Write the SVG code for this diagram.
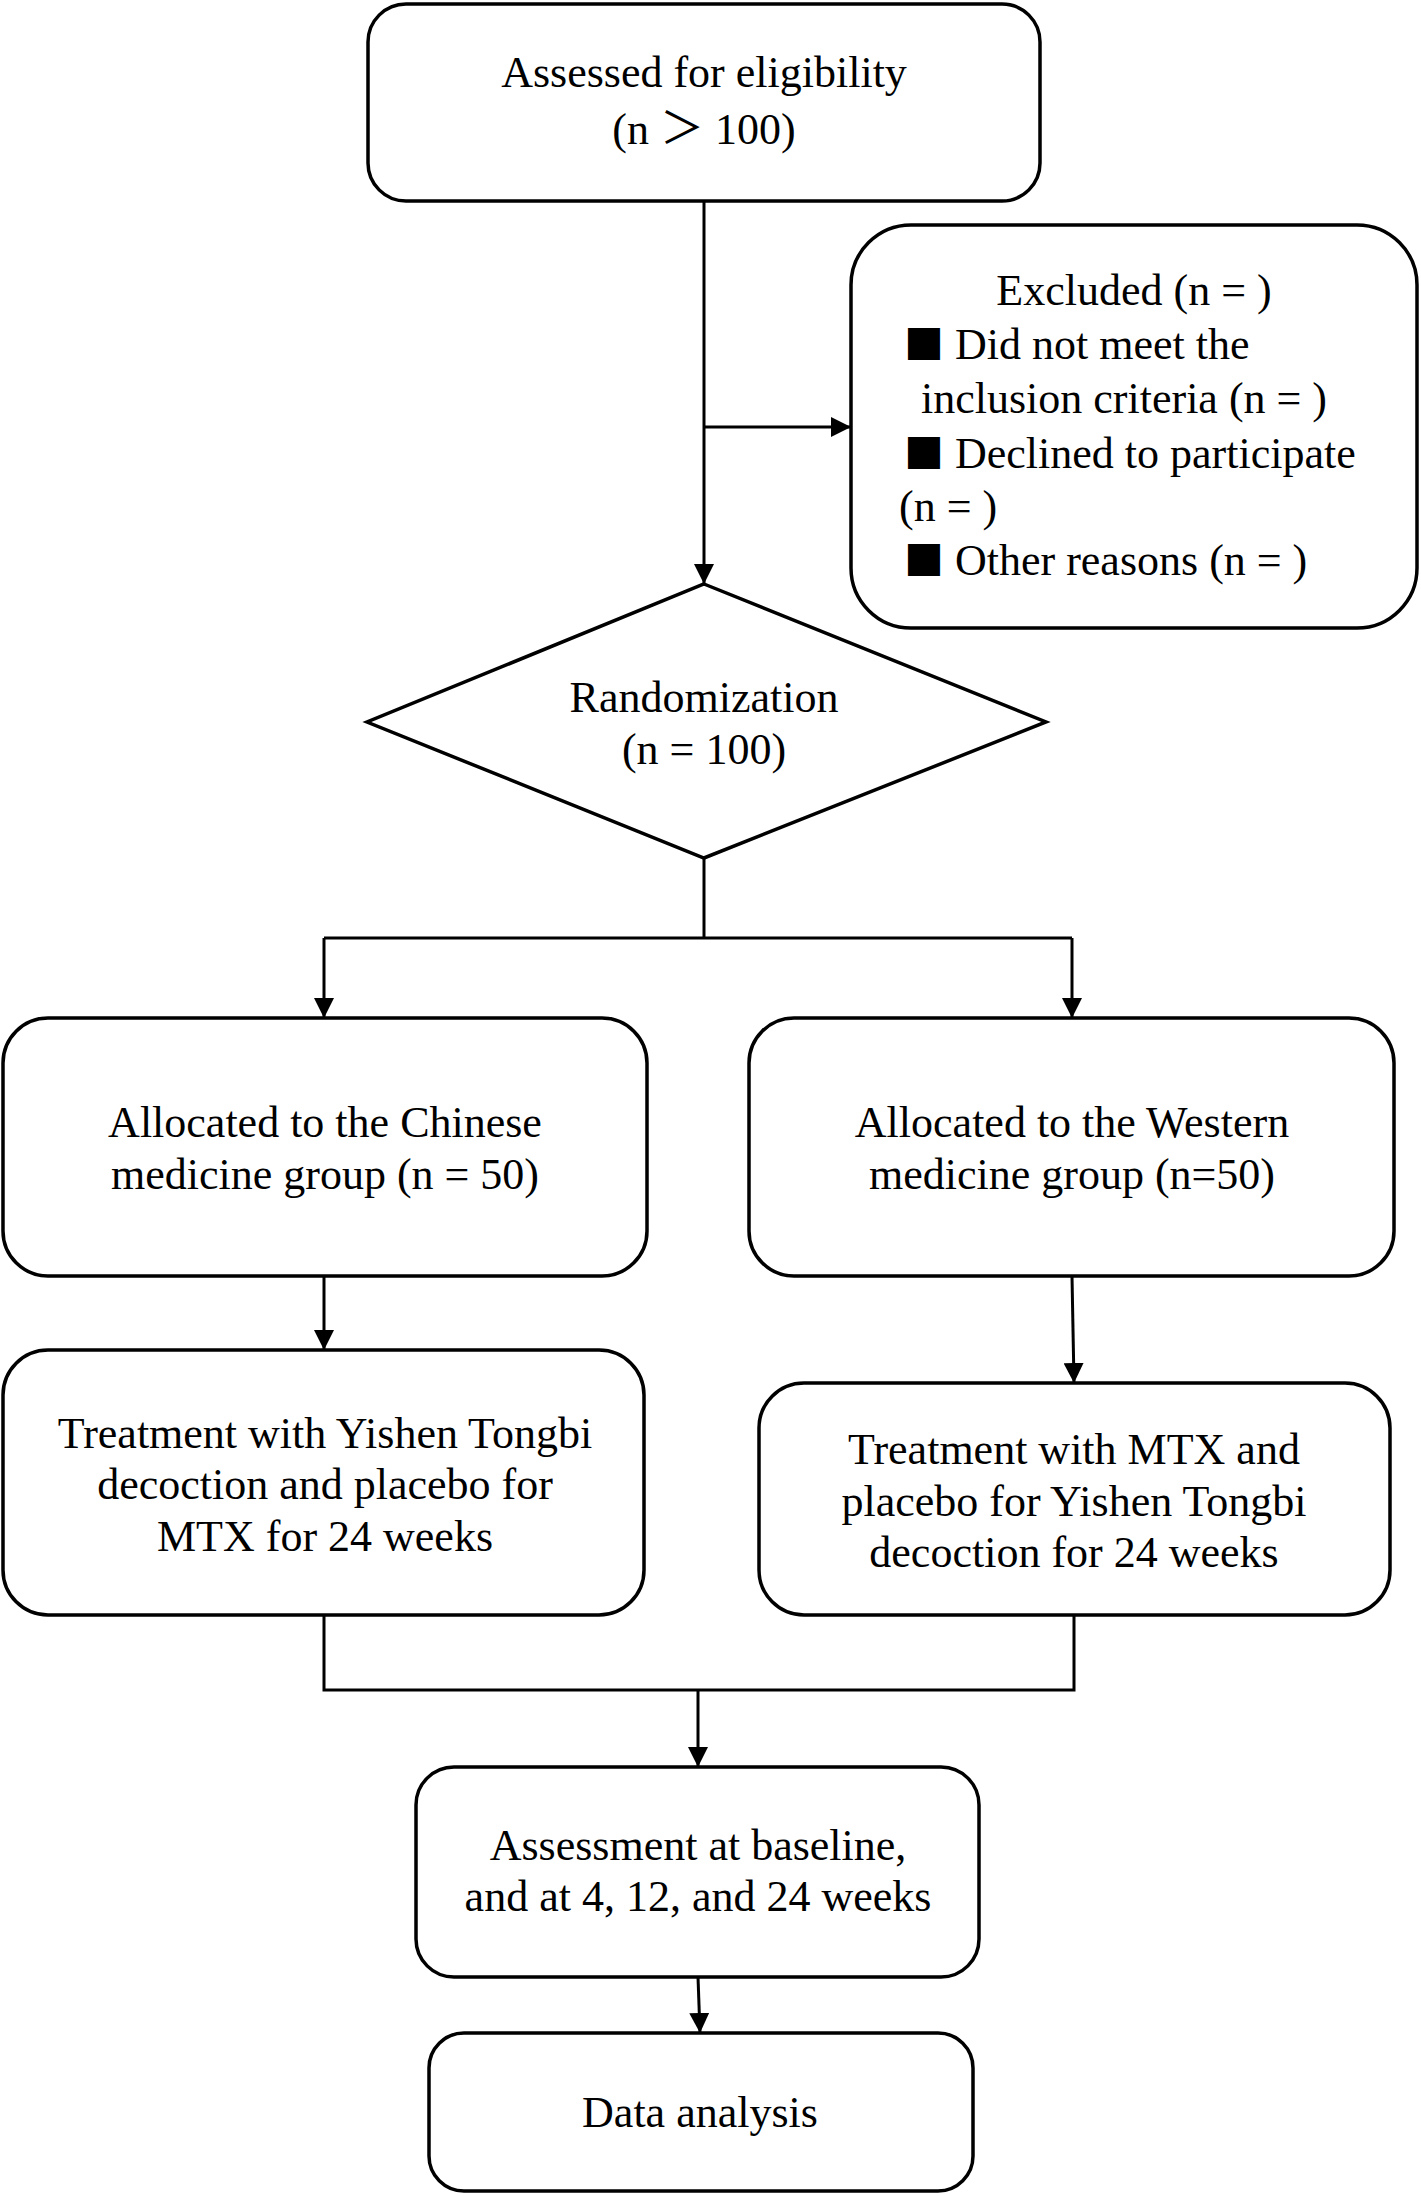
<svg xmlns="http://www.w3.org/2000/svg" width="1421" height="2196" viewBox="0 0 1421 2196">
<defs>
<marker id="arr" markerUnits="userSpaceOnUse" markerWidth="20" markerHeight="20" refX="20" refY="10" orient="auto">
<path d="M0,0 L20,10 L0,20 z" fill="#000"/>
</marker>
</defs>
<style>
.box{fill:#fff;stroke:#000;stroke-width:3.5}
.t{font-family:"Liberation Serif","Times New Roman","Noto Sans CJK SC",serif;font-size:44px;fill:#000}
.c{text-anchor:middle}
.sq{font-family:"Noto Sans CJK SC",sans-serif;font-size:40px}
.ln{fill:none;stroke:#000;stroke-width:3}
</style>
<rect width="1421" height="2196" fill="#fff"/>
<g id="connectors">
<line class="ln" x1="704" y1="201" x2="704" y2="584" marker-end="url(#arr)"/>
<line class="ln" x1="704" y1="427" x2="851" y2="427" marker-end="url(#arr)"/>
<polyline class="ln" points="704,858 704,938"/>
<polyline class="ln" points="324,938 1072,938"/>
<line class="ln" x1="324" y1="938" x2="324" y2="1018" marker-end="url(#arr)"/>
<line class="ln" x1="1072" y1="938" x2="1072" y2="1018" marker-end="url(#arr)"/>
<line class="ln" x1="324" y1="1276" x2="324" y2="1350" marker-end="url(#arr)"/>
<line class="ln" x1="1072" y1="1276" x2="1074" y2="1383" marker-end="url(#arr)"/>
<polyline class="ln" points="324,1615 324,1690 1074,1690 1074,1615"/>
<line class="ln" x1="698" y1="1690" x2="698" y2="1767" marker-end="url(#arr)"/>
<line class="ln" x1="698" y1="1977" x2="700" y2="2033" marker-end="url(#arr)"/>
</g>
<g id="assessed">
<rect class="box" x="368" y="4" width="672" height="197" rx="38"/>
<text class="t c" x="704" y="87">Assessed for eligibility</text>
<text class="t c" x="704" y="144">(n ＞ 100)</text>
</g>
<g id="excluded">
<rect class="box" x="851" y="225" width="566" height="403" rx="60"/>
<text class="t c" x="1134" y="305">Excluded (n = )</text>
<text class="t" x="904" y="359"><tspan class="sq">■</tspan> Did not meet the</text>
<text class="t" x="921" y="413">inclusion criteria (n = )</text>
<text class="t" x="904" y="468"><tspan class="sq">■</tspan> Declined to participate</text>
<text class="t" x="899" y="521">(n = )</text>
<text class="t" x="904" y="575"><tspan class="sq">■</tspan> Other reasons (n = )</text>
</g>
<g id="randomization">
<polygon class="box" points="704,584 1046,722 704,858 367,722"/>
<text class="t c" x="704" y="712">Randomization</text>
<text class="t c" x="704" y="764">(n = 100)</text>
</g>
<g id="alloc-chinese">
<rect class="box" x="3" y="1018" width="644" height="258" rx="45"/>
<text class="t c" x="325" y="1137">Allocated to the Chinese</text>
<text class="t c" x="325" y="1189">medicine group (n = 50)</text>
</g>
<g id="alloc-western">
<rect class="box" x="749" y="1018" width="645" height="258" rx="45"/>
<text class="t c" x="1072" y="1137">Allocated to the Western</text>
<text class="t c" x="1072" y="1189">medicine group (n=50)</text>
</g>
<g id="treat-chinese">
<rect class="box" x="3" y="1350" width="641" height="265" rx="45"/>
<text class="t c" x="325" y="1448">Treatment with Yishen Tongbi</text>
<text class="t c" x="325" y="1499">decoction and placebo for</text>
<text class="t c" x="325" y="1551">MTX for 24 weeks</text>
</g>
<g id="treat-western">
<rect class="box" x="759" y="1383" width="631" height="232" rx="45"/>
<text class="t c" x="1074" y="1464">Treatment with MTX and</text>
<text class="t c" x="1074" y="1516">placebo for Yishen Tongbi</text>
<text class="t c" x="1074" y="1567">decoction for 24 weeks</text>
</g>
<g id="assessment">
<rect class="box" x="416" y="1767" width="563" height="210" rx="38"/>
<text class="t c" x="698" y="1860">Assessment at baseline,</text>
<text class="t c" x="698" y="1911">and at 4, 12, and 24 weeks</text>
</g>
<g id="data-analysis">
<rect class="box" x="429" y="2033" width="544" height="158" rx="35"/>
<text class="t c" x="700" y="2127">Data analysis</text>
</g>
</svg>
